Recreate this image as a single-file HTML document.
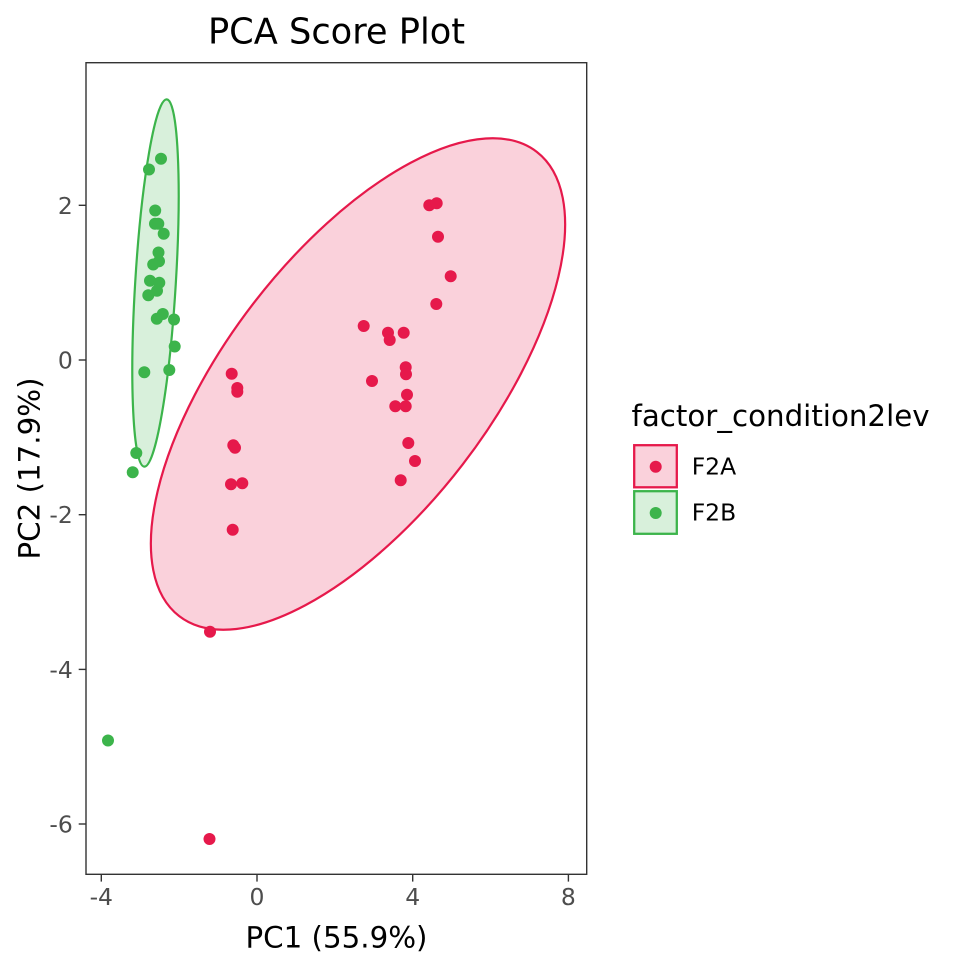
<!DOCTYPE html>
<html>
<head>
<meta charset="utf-8">
<style>
  html, body { margin: 0; padding: 0; background: #ffffff; }
  svg { display: block; }
  text { font-family: "DejaVu Sans", "Liberation Sans", sans-serif; }
</style>
</head>
<body>
<svg width="960" height="960" viewBox="0 0 960 960" xmlns="http://www.w3.org/2000/svg">
  <rect x="0" y="0" width="960" height="960" fill="#ffffff"/>

  <!-- Title -->
  <text x="336.5" y="43.5" font-size="35.2" text-anchor="middle" fill="#000">PCA Score Plot</text>

  <!-- Ellipses -->
  <ellipse cx="358" cy="384" rx="293" ry="132" transform="rotate(-52.4 358 384)"
           fill="#FAD1DB" stroke="#E6194B" stroke-width="2.2"/>
  <ellipse cx="155.5" cy="283" rx="184" ry="20.3" transform="rotate(-86.5 155.5 283)"
           fill="#D8F0DB" stroke="#3CB44B" stroke-width="2.2"/>

  <!-- Green points -->
  <g fill="#3CB44B">
    <circle cx="161" cy="158.8" r="6"/>
    <circle cx="149" cy="169.5" r="6"/>
    <circle cx="155.2" cy="210.5" r="6"/>
    <circle cx="155" cy="223.8" r="6"/>
    <circle cx="158.3" cy="223.8" r="6"/>
    <circle cx="163.7" cy="233.7" r="6"/>
    <circle cx="158.5" cy="252.5" r="6"/>
    <circle cx="159" cy="261.3" r="6"/>
    <circle cx="153.2" cy="264.5" r="6"/>
    <circle cx="150" cy="280.8" r="6"/>
    <circle cx="159.3" cy="282.8" r="6"/>
    <circle cx="157" cy="290.8" r="6"/>
    <circle cx="148.3" cy="295.3" r="6"/>
    <circle cx="162.8" cy="314" r="6"/>
    <circle cx="156.8" cy="318.8" r="6"/>
    <circle cx="174" cy="319.5" r="6"/>
    <circle cx="174.7" cy="346.5" r="6"/>
    <circle cx="144.3" cy="372.2" r="6"/>
    <circle cx="169.3" cy="370" r="6"/>
    <circle cx="136.3" cy="453" r="6"/>
    <circle cx="132.7" cy="472.3" r="6"/>
    <circle cx="108" cy="740.5" r="6"/>
  </g>

  <!-- Red points -->
  <g fill="#E6194B">
    <circle cx="429.3" cy="205.3" r="6"/>
    <circle cx="436.7" cy="203.3" r="6"/>
    <circle cx="438" cy="236.7" r="6"/>
    <circle cx="450.7" cy="276.3" r="6"/>
    <circle cx="436.3" cy="304" r="6"/>
    <circle cx="363.7" cy="326" r="6"/>
    <circle cx="388" cy="332.7" r="6"/>
    <circle cx="389.7" cy="340" r="6"/>
    <circle cx="403.7" cy="332.7" r="6"/>
    <circle cx="405.7" cy="367.3" r="6"/>
    <circle cx="406" cy="374.3" r="6"/>
    <circle cx="372" cy="381" r="6"/>
    <circle cx="407" cy="394.7" r="6"/>
    <circle cx="395.3" cy="406.3" r="6"/>
    <circle cx="405.7" cy="406.3" r="6"/>
    <circle cx="408.3" cy="443" r="6"/>
    <circle cx="415" cy="461" r="6"/>
    <circle cx="400.7" cy="480.3" r="6"/>
    <circle cx="231.7" cy="373.7" r="6"/>
    <circle cx="237.3" cy="388" r="6"/>
    <circle cx="237.3" cy="391.7" r="6"/>
    <circle cx="233.3" cy="445.3" r="6"/>
    <circle cx="235" cy="447.7" r="6"/>
    <circle cx="231" cy="484.3" r="6"/>
    <circle cx="242.3" cy="483.3" r="6"/>
    <circle cx="232.7" cy="529.7" r="6"/>
    <circle cx="210" cy="631.7" r="6"/>
    <circle cx="209.5" cy="839" r="6"/>
  </g>

  <!-- Panel border -->
  <rect x="86" y="62.7" width="500.7" height="811.6" fill="none" stroke="#333333" stroke-width="1.4"/>

  <!-- Y ticks -->
  <g stroke="#333333" stroke-width="1.4">
    <line x1="78.7" y1="205.3" x2="86" y2="205.3"/>
    <line x1="78.7" y1="360" x2="86" y2="360"/>
    <line x1="78.7" y1="514.7" x2="86" y2="514.7"/>
    <line x1="78.7" y1="669.4" x2="86" y2="669.4"/>
    <line x1="78.7" y1="824" x2="86" y2="824"/>
  </g>
  <g font-size="23.47" fill="#4D4D4D" text-anchor="end">
    <text x="72.8" y="213.8">2</text>
    <text x="72.8" y="368.5">0</text>
    <text x="72.8" y="523.2">-2</text>
    <text x="72.8" y="677.9">-4</text>
    <text x="72.8" y="832.5">-6</text>
  </g>

  <!-- X ticks -->
  <g stroke="#333333" stroke-width="1.4">
    <line x1="101.3" y1="874.3" x2="101.3" y2="881.6"/>
    <line x1="257" y1="874.3" x2="257" y2="881.6"/>
    <line x1="412.7" y1="874.3" x2="412.7" y2="881.6"/>
    <line x1="568.4" y1="874.3" x2="568.4" y2="881.6"/>
  </g>
  <g font-size="23.47" fill="#4D4D4D" text-anchor="middle">
    <text x="101.3" y="905">-4</text>
    <text x="257" y="905">0</text>
    <text x="412.7" y="905">4</text>
    <text x="568.4" y="905">8</text>
  </g>

  <!-- Axis titles -->
  <text x="336.5" y="947.5" font-size="29.3" text-anchor="middle" fill="#000">PC1 (55.9%)</text>
  <text x="0" y="0" font-size="29.3" text-anchor="middle" fill="#000"
        transform="translate(39.3 468.5) rotate(-90)">PC2 (17.9%)</text>

  <!-- Legend -->
  <text x="631.5" y="426" font-size="29.3" fill="#000">factor_condition2lev</text>
  <rect x="634.2" y="445.2" width="42.6" height="42.1" fill="#FAD1DB" stroke="#E6194B" stroke-width="2.3"/>
  <circle cx="655.7" cy="466.7" r="6" fill="#E6194B"/>
  <rect x="634.2" y="491.2" width="42.6" height="42.6" fill="#D8F0DB" stroke="#3CB44B" stroke-width="2.3"/>
  <circle cx="655.7" cy="513" r="6" fill="#3CB44B"/>
  <text x="691.7" y="474.5" font-size="23.47" fill="#000">F2A</text>
  <text x="691.7" y="520.5" font-size="23.47" fill="#000">F2B</text>
</svg>
</body>
</html>
